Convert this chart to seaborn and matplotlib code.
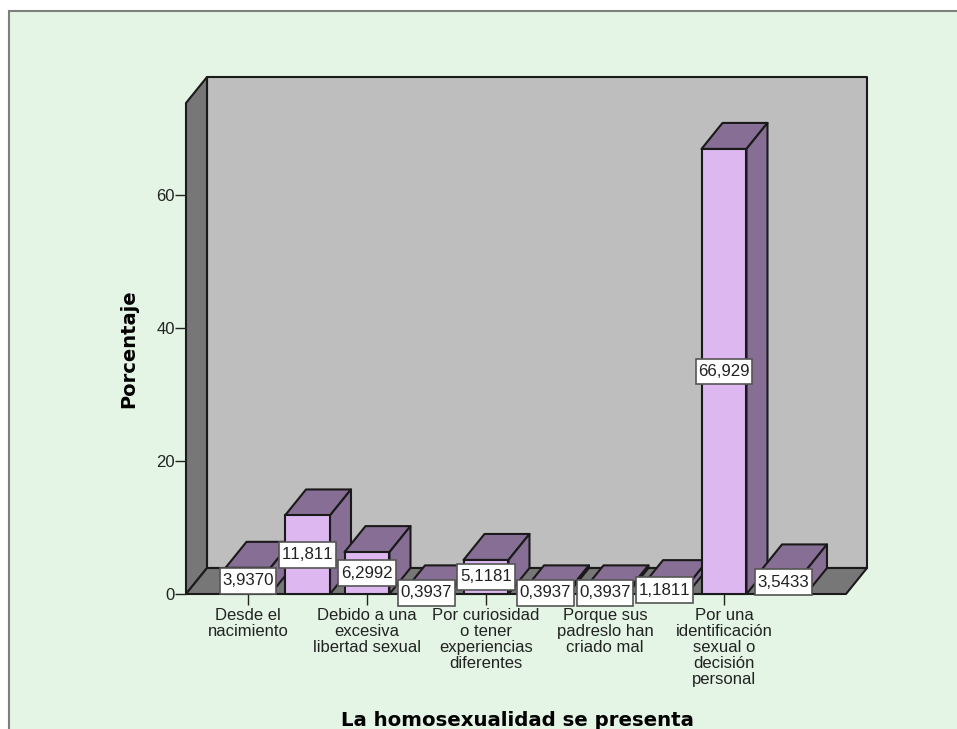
# Homosexualidad - barras 3D estilo SPSS
import matplotlib
matplotlib.use("Agg")
import matplotlib.pyplot as plt
import seaborn as sns
from matplotlib.patches import Rectangle
from matplotlib.path import Path

categorias = ["Desde el nacimiento", "sin etiqueta 2",
              "Debido a una excesiva libertad sexual", "sin etiqueta 4",
              "Por curiosidad o tener experiencias diferentes", "sin etiqueta 6",
              "Porque sus padreslo han criado mal", "sin etiqueta 8",
              "Por una identificación sexual o decisión personal", "sin etiqueta 10"]
porcentaje = [3.9370, 11.811, 6.2992, 0.3937, 5.1181, 0.3937, 0.3937, 1.1811, 66.929, 3.5433]
etiquetas = ["3,9370", "11,811", "6,2992", "0,3937", "5,1181", "0,3937", "0,3937", "1,1811", "66,929", "3,5433"]
pos_ticks = [0, 2, 4, 6, 8]
nombres_ticks = ["Desde el\nnacimiento", "Debido a una\nexcesiva\nlibertad sexual",
                 "Por curiosidad\no tener\nexperiencias\ndiferentes",
                 "Porque sus\npadreslo han\ncriado mal",
                 "Por una\nidentificación\nsexual o\ndecisión\npersonal"]
yticks = [0, 20, 40, 60]

W, H = 957, 729
sns.set_style("ticks")
plt.rcParams['font.family'] = ['Liberation Sans', 'DejaVu Sans']
plt.rcParams['text.kerning_factor'] = 6


# caja de etiqueta: mas alta que ancha de margen
def caja(x0, y0, w, h, mutation_size):
    px, py = 0.16 * mutation_size, 0.32 * mutation_size
    return Path([(x0 - px, y0 - py), (x0 + w + px, y0 - py), (x0 + w + px, y0 + h + py),
                 (x0 - px, y0 + h + py), (x0 - px, y0 - py)], closed=True)


fig = plt.figure(figsize=(W / 100, H / 100), dpi=100, facecolor='white')
# fondo verde con borde gris
fig.add_artist(Rectangle((9 / W, -0.05), 1.1, 1.05 - 11 / H, transform=fig.transFigure,
                         fc='#E4F5E5', ec='#7F7F7F', lw=1.5, zorder=-1))

ax = fig.add_axes([186 / W, (H - 594) / H, 660 / W, 491 / H])
ax.patch.set_alpha(0)

sns.barplot(x=categorias, y=porcentaje, color='#DDB8F0', saturation=1, width=0.756,
            edgecolor='#1A1A1A', linewidth=1.5, ax=ax)

xmin, xmax = -62 / 59.5, 598 / 59.5
ymax = 491 / 6.65
ax.set_xlim(xmin, xmax)
ax.set_ylim(0, ymax)

# profundidad 3D
dx = 21 / 59.5
dy = 26 / 6.65
linea = dict(edgecolor='#1A1A1A', linewidth=1.5, clip_on=False, joinstyle='round')

ax.fill([xmin, xmin + dx, xmin + dx, xmin], [0, dy, ymax + dy, ymax], fc='#777777', zorder=0.3, **linea)
ax.fill([xmin + dx, xmax + dx, xmax + dx, xmin + dx], [dy, dy, ymax + dy, ymax + dy], fc='#BEBEBE', zorder=0.2, **linea)
ax.fill([xmin, xmin + dx, xmax + dx, xmax], [0, dy, dy, 0], fc='#777777', zorder=0.4, **linea)

for i, bar in enumerate(ax.containers[0]):
    x0 = bar.get_x()
    x1 = x0 + bar.get_width()
    h = bar.get_height()
    z = 2 + i
    ax.fill([x0, x0 + dx, x1 + dx, x1], [h, h + dy, h + dy, h], fc='#876E94', zorder=z, **linea)
    ax.fill([x1, x1 + dx, x1 + dx, x1], [0, dy, h + dy, h], fc='#876E94', zorder=z, **linea)
    bar.set_zorder(z + 0.5)
    bar.set_clip_on(False)

# etiquetas de valor
for i, (v, txt) in enumerate(zip(porcentaje, etiquetas)):
    ax.text(i, v / 2, txt, ha='center', va='center', fontsize=12.2, color='#222222', zorder=30,
            bbox=dict(boxstyle=caja, fc='white', ec='#555555', lw=1.2))

for s in ax.spines.values():
    s.set_visible(False)

ax.set_yticks(yticks)
ax.set_xticks(pos_ticks)
ax.set_xticklabels(nombres_ticks, fontsize=12, color='#222222', linespacing=1.08)
ax.tick_params(axis='y', length=8, width=1, color='#222222', pad=0, labelsize=12, labelcolor='#222222')
ax.tick_params(axis='x', length=8, width=1, color='#222222', pad=2)

fig.text(129 / W, 1 - 349 / H, "Porcentaje", rotation=90, ha='center', va='center',
         fontsize=14, fontweight='bold', family='DejaVu Sans', color='black')
fig.text(517 / W, 1 - 720 / H, "La homosexualidad se presenta", ha='center', va='center',
         fontsize=14.2, fontweight='bold', family='DejaVu Sans', color='black')

fig.savefig("out.png", dpi=100)
